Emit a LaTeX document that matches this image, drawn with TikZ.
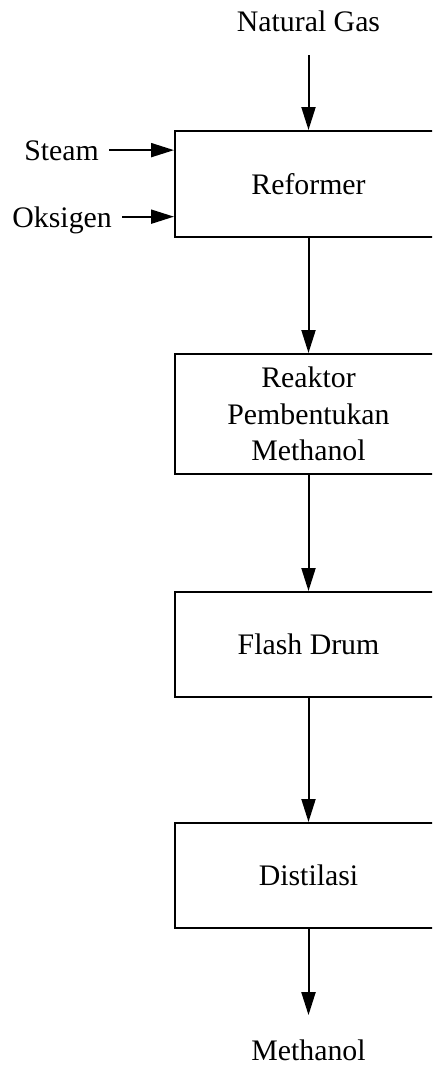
\documentclass[tikz,border=0pt]{standalone}
\usepackage{fontspec}
\setmainfont{Liberation Serif}
\usetikzlibrary{arrows.meta}
\tikzset{
  unit/.style={draw, line width=2pt, inner sep=0pt, minimum width=267pt, align=center},
  label/.style={inner sep=0pt, anchor=base},
  flow/.style={line width=2pt, -{Triangle[length=23pt,width=14pt]}},
}
\begin{document}
\begin{tikzpicture}[x=1pt,y=-1pt]
  \fontsize{29.8}{36.5}\selectfont
  \useasboundingbox (0,0) rectangle (432,1065);
  \clip (0,0) rectangle (432,1065);

  % process units
  \node[unit, minimum height=106pt] (ref)  at (308.5,184)   {Reformer};
  \node[unit, minimum height=120pt] (rx)   at (308.5,414)   {Reaktor\\Pembentukan\\Methanol};
  \node[unit, minimum height=105pt] (fd)   at (308.5,644.5) {Flash Drum};
  \node[unit, minimum height=105pt] (dist) at (308.5,875.5) {Distilasi};

  % feed and product streams
  \node[label] (ng)   at (308.5,32)   {Natural Gas};
  \node[label, anchor=base east, text depth=0pt] (steam) at (99,160)  {Steam};
  \node[label, anchor=base east, text depth=0pt] (oks)   at (112,227) {Oksigen};
  \node[label] (prod) at (308.5,1060) {Methanol};

  % connections
  \draw[flow, shorten <=23pt] (ng.south) -- (ref.north);
  \draw[flow] ([xshift=10pt]steam.east) -- (steam.east -| ref.west);
  \draw[flow] ([xshift=10pt]oks.east) -- (oks.east -| ref.west);
  \draw[flow] (ref.south) -- (rx.north);
  \draw[flow] (rx.south) -- (fd.north);
  \draw[flow] (fd.south) -- (dist.north);
  \draw[flow, shorten >=24pt] (dist.south) -- (prod.north);
\end{tikzpicture}
\end{document}
